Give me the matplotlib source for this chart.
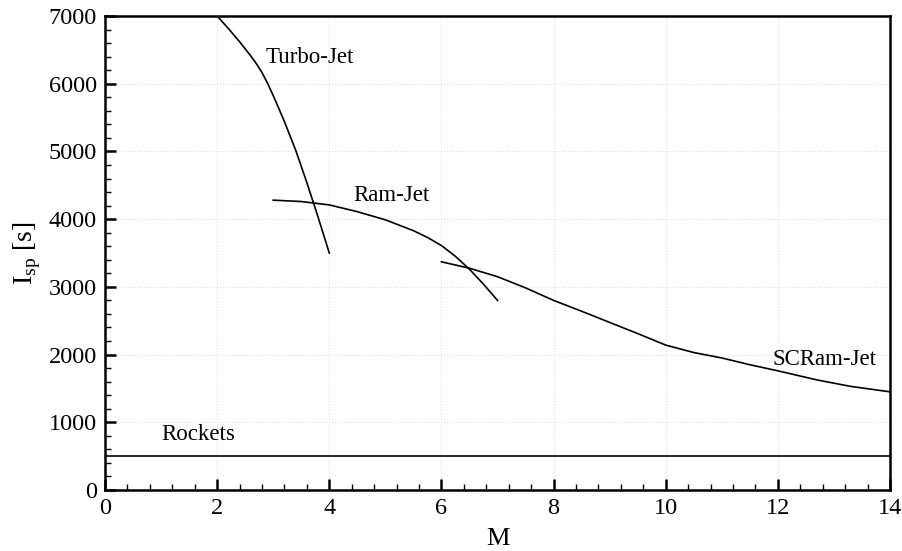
import matplotlib
matplotlib.use("Agg")
import matplotlib.pyplot as plt
from matplotlib.ticker import MultipleLocator

plt.rcParams["font.family"] = ["Liberation Serif", "DejaVu Serif"]
plt.rcParams["mathtext.fontset"] = "custom"
plt.rcParams["mathtext.rm"] = "Liberation Serif"

# Specific impulse vs Mach number for each propulsion type
turbo_m = [2.0, 2.2, 2.4, 2.6, 2.7, 2.8, 2.9, 3.0, 3.1, 3.2, 3.4, 3.6, 3.8, 4.0]
turbo_isp = [7000, 6815, 6620, 6410, 6295, 6165, 6005, 5825, 5635, 5440, 5020, 4540, 4030, 3500]

ram_m = [3.0, 3.5, 4.0, 4.5, 5.0, 5.5, 5.75, 6.0, 6.25, 6.5, 6.75, 7.0]
ram_isp = [4280, 4260, 4210, 4110, 3990, 3830, 3730, 3610, 3450, 3260, 3040, 2800]

scram_m = [6.0, 6.5, 7.0, 7.5, 8.0, 8.5, 9.0, 9.5, 10.0, 10.5, 11.0, 11.5, 12.0, 12.7, 13.3, 14.0]
scram_isp = [3370, 3275, 3150, 2985, 2800, 2640, 2475, 2310, 2140, 2030, 1950, 1850, 1760, 1625, 1530, 1450]

rocket_m = [0, 14]
rocket_isp = [500, 500]

fig = plt.figure(figsize=(9.02, 5.51), dpi=100)
ax = fig.add_axes([0.1164, 0.1107, 0.8703, 0.8603])

for m, isp in [(turbo_m, turbo_isp), (ram_m, ram_isp), (scram_m, scram_isp), (rocket_m, rocket_isp)]:
    ax.plot(m, isp, color="black", lw=1.2)

ax.text(2.87, 6307, "Turbo-Jet", fontsize=16.5, va="baseline")
ax.text(4.42, 4269, "Ram-Jet", fontsize=16.5, va="baseline")
ax.text(11.9, 1846, "SCRam-Jet", fontsize=16.5, va="baseline")
ax.text(1.0, 738, "Rockets", fontsize=16.5, va="baseline")

ax.set_xlim(0, 14)
ax.set_ylim(0, 7000)
ax.xaxis.set_major_locator(MultipleLocator(2))
ax.xaxis.set_minor_locator(MultipleLocator(0.4))
ax.yaxis.set_major_locator(MultipleLocator(1000))
ax.yaxis.set_minor_locator(MultipleLocator(200))
ax.tick_params(which="major", direction="in", length=8, width=1.8, labelsize=17.5, pad=6)
ax.tick_params(which="minor", direction="in", length=4.5, width=1.0)
ax.grid(True, which="major", color="#e4e4e4", linestyle=":", lw=0.8)
for s in ax.spines.values():
    s.set_linewidth(1.8)

ax.set_xlabel("M", fontsize=19, labelpad=6)
ax.set_ylabel(r"I$_{\mathrm{sp}}$ [s]", fontsize=20, labelpad=4)

fig.savefig("out.png", dpi=100)
